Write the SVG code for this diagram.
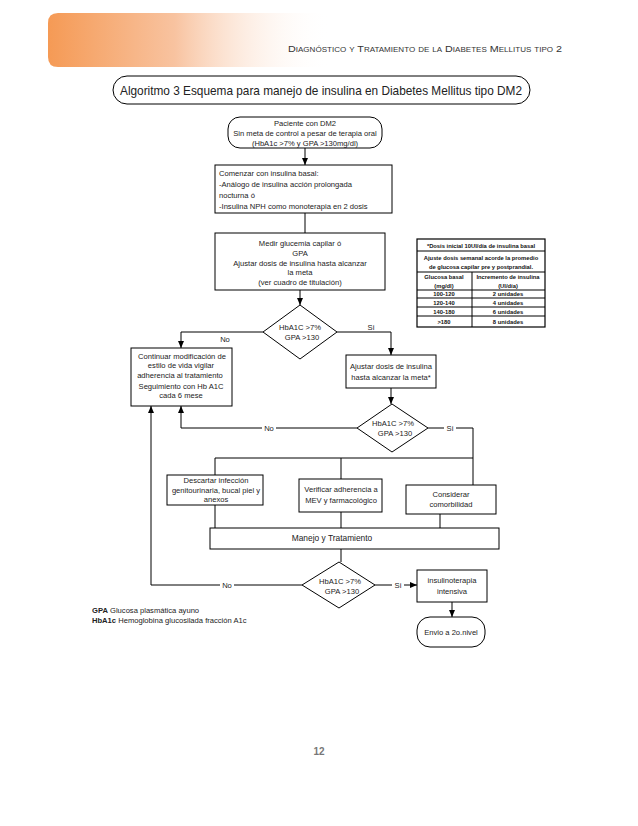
<svg xmlns="http://www.w3.org/2000/svg" width="638" height="826" viewBox="0 0 638 826">
<defs>
<linearGradient id="band" x1="0" y1="0" x2="1" y2="0">
<stop offset="0" stop-color="#f59a55"/>
<stop offset="0.45" stop-color="#f8c3a0"/>
<stop offset="1" stop-color="#ffffff" stop-opacity="0"/>
</linearGradient>
<marker id="ar" markerWidth="8" markerHeight="8" refX="7" refY="4" orient="auto" markerUnits="userSpaceOnUse">
<path d="M0,1 L7,4 L0,7 Z" fill="#000"/>
</marker>
<style>
text{font-family:"Liberation Sans",Arial,sans-serif;fill:#222;}
.t{font-size:7.6px;}
.b{fill:#fff;stroke:#000;stroke-width:1;}
.c{fill:none;stroke:#000;stroke-width:1;}
.tb{font-size:5.8px;font-weight:bold;fill:#111;}
.lbl{font-size:7.6px;}
</style>
</defs>
<rect width="638" height="826" fill="#fff"/>
<g id="header">
<path d="M58,13 H330 V67 H58 Q48,67 48,57 V23 Q48,13 58,13 Z" fill="url(#band)"/>
<text x="288" y="52" textLength="274" lengthAdjust="spacingAndGlyphs" style="font-size:9.4px;font-variant:small-caps;fill:#333">Diagnóstico y Tratamiento de la Diabetes Mellitus tipo 2</text>
</g>
<g id="title">
<rect x="113" y="76" width="417" height="28" rx="14" class="b"/>
<text x="120" y="95" textLength="402" lengthAdjust="spacingAndGlyphs" style="font-size:13px;">Algoritmo 3 Esquema para manejo de  insulina en  Diabetes Mellitus tipo DM2</text>
</g>
<g id="connectors">
<line x1="305" y1="148" x2="305" y2="165" class="c" marker-end="url(#ar)"/>
<line x1="305" y1="213" x2="305" y2="233" class="c"/>
<line x1="300" y1="290" x2="300" y2="305" class="c" marker-end="url(#ar)"/>
<polyline points="263,332 181,332 181,348" class="c" marker-end="url(#ar)"/>
<polyline points="337,332 391,332 391,355" class="c" marker-end="url(#ar)"/>
<line x1="391" y1="388" x2="391" y2="404" class="c" marker-end="url(#ar)"/>
<polyline points="357,428 181,428 181,406" class="c" marker-end="url(#ar)"/>
<polyline points="428,428 473,428 473,485" class="c"/>
<polyline points="215,475 215,458 473,458" class="c"/>
<line x1="341" y1="458" x2="341" y2="479" class="c"/>
<line x1="215" y1="505" x2="215" y2="528" class="c"/>
<line x1="341" y1="512" x2="341" y2="528" class="c"/>
<line x1="440" y1="514" x2="440" y2="528" class="c"/>
<line x1="341" y1="549" x2="341" y2="562" class="c"/>
<polyline points="302,585 151,585 151,406" class="c" marker-end="url(#ar)"/>
<line x1="375" y1="585" x2="417" y2="585" class="c" marker-end="url(#ar)"/>
<line x1="452" y1="602" x2="452" y2="617" class="c" marker-end="url(#ar)"/>
<text x="225" y="342" class="lbl" text-anchor="middle">No</text>
<text x="371" y="330" class="lbl" text-anchor="middle">Si</text>
<rect x="262" y="424" width="14" height="8" fill="#fff"/>
<text x="269" y="431" class="lbl" text-anchor="middle">No</text>
<rect x="444" y="424" width="12" height="8" fill="#fff"/>
<text x="450" y="431" class="lbl" text-anchor="middle">Si</text>
<rect x="220" y="581" width="14" height="8" fill="#fff"/>
<text x="227" y="588" class="lbl" text-anchor="middle">No</text>
<rect x="392" y="581" width="12" height="8" fill="#fff"/>
<text x="398" y="588" class="lbl" text-anchor="middle">Si</text>
</g>
<g id="n1">
<rect x="228" y="117" width="154" height="31" rx="12" class="b"/>
<text x="305" y="126" class="t" text-anchor="middle">Paciente con DM2</text>
<text x="305" y="136" class="t" text-anchor="middle">Sin meta de  control  a pesar de terapia oral</text>
<text x="305" y="146" class="t" text-anchor="middle">(HbA1c &gt;7% y GPA &gt;130mg/dl)</text>
</g>
<g id="n2">
<rect x="215" y="165" width="177" height="48" class="b"/>
<text x="219" y="176" class="t">Comenzar con insulina basal:</text>
<text x="219" y="187" class="t">-Análogo de insulina acción prolongada</text>
<text x="219" y="198" class="t">nocturna  ó</text>
<text x="219" y="209" class="t">-Insulina NPH como monoterapia en  2 dosis</text>
</g>
<g id="n3">
<rect x="215" y="233" width="170" height="57" class="b"/>
<text x="300" y="246" class="t" text-anchor="middle">Medir glucemia capilar ó</text>
<text x="300" y="256" class="t" text-anchor="middle">GPA</text>
<text x="300" y="266" class="t" text-anchor="middle">Ajustar dosis de insulina hasta alcanzar</text>
<text x="300" y="275" class="t" text-anchor="middle">la meta</text>
<text x="300" y="285" class="t" text-anchor="middle">(ver cuadro de titulación)</text>
</g>
<g id="d1">
<polygon points="300,305 337,332 300,359 263,332" class="b"/>
<text x="300" y="330" class="t" text-anchor="middle">HbA1C &gt;7%</text>
<text x="302" y="340" class="t" text-anchor="middle">GPA &gt;130</text>
</g>
<g id="n4">
<rect x="131" y="348" width="101" height="58" class="b"/>
<text x="182" y="359" class="t" text-anchor="middle">Continuar modificación de</text>
<text x="181" y="368" class="t" text-anchor="middle">estilo de vida  vigilar</text>
<text x="180" y="378" class="t" text-anchor="middle">adherencia al tratamiento</text>
<text x="181" y="389" class="t" text-anchor="middle">Seguimiento con Hb A1C</text>
<text x="181" y="398" class="t" text-anchor="middle">cada 6 mese</text>
</g>
<g id="table">
<rect x="417" y="239" width="128" height="88" fill="#fff" stroke="#000" stroke-width="1.2"/>
<line x1="417" y1="251" x2="545" y2="251" stroke="#000" stroke-width="1"/>
<line x1="417" y1="272" x2="545" y2="272" stroke="#000" stroke-width="1"/>
<line x1="417" y1="290" x2="545" y2="290" stroke="#000" stroke-width="1"/>
<line x1="417" y1="298" x2="545" y2="298" stroke="#000" stroke-width="1"/>
<line x1="417" y1="307" x2="545" y2="307" stroke="#000" stroke-width="1"/>
<line x1="417" y1="316" x2="545" y2="316" stroke="#000" stroke-width="1"/>
<line x1="472" y1="272" x2="472" y2="327" stroke="#000" stroke-width="1"/>
<text x="481" y="247.5" class="tb" text-anchor="middle">*Dosis inicial 10UI/día de insulina basal</text>
<text x="481" y="259.5" class="tb" text-anchor="middle">Ajuste dosis semanal acorde la promedio</text>
<text x="481" y="268.5" class="tb" text-anchor="middle">de glucosa capilar pre y postprandial.</text>
<text x="444" y="279" class="tb" text-anchor="middle">Glucosa basal</text>
<text x="444" y="287.5" class="tb" text-anchor="middle">(mg/dl)</text>
<text x="508" y="279" class="tb" text-anchor="middle">Incremento de insulina</text>
<text x="508" y="287.5" class="tb" text-anchor="middle">(UI/día)</text>
<text x="444" y="296.2" class="tb" text-anchor="middle">100-120</text>
<text x="508" y="296.2" class="tb" text-anchor="middle">2 unidades</text>
<text x="444" y="305" class="tb" text-anchor="middle">120-140</text>
<text x="508" y="305" class="tb" text-anchor="middle">4 unidades</text>
<text x="444" y="314" class="tb" text-anchor="middle">140-180</text>
<text x="508" y="314" class="tb" text-anchor="middle">6 unidades</text>
<text x="444" y="324" class="tb" text-anchor="middle">&gt;180</text>
<text x="508" y="324" class="tb" text-anchor="middle">8 unidades</text>
</g>
<g id="n5">
<rect x="346" y="355" width="90" height="33" class="b"/>
<text x="391" y="369" class="t" text-anchor="middle">Ajustar dosis de insulina</text>
<text x="391" y="380" class="t" text-anchor="middle">hasta alcanzar la meta*</text>
</g>
<g id="d2">
<polygon points="392,404 428,428 392,452 357,428" class="b"/>
<text x="393" y="426" class="t" text-anchor="middle">HbA1C &gt;7%</text>
<text x="395" y="436" class="t" text-anchor="middle">GPA &gt;130</text>
</g>
<g id="n6">
<rect x="167" y="475" width="96" height="30" class="b"/>
<text x="216" y="483" class="t" text-anchor="middle">Descartar  infección</text>
<text x="216" y="493" class="t" text-anchor="middle">genitourinaria, bucal piel y</text>
<text x="216" y="502" class="t" text-anchor="middle">anexos</text>
</g>
<g id="n7">
<rect x="299" y="479" width="83" height="33" class="b"/>
<text x="341" y="492" class="t" text-anchor="middle">Verificar adherencia a</text>
<text x="341" y="503" class="t" text-anchor="middle">MEV y farmacológico</text>
</g>
<g id="n8">
<rect x="406" y="485" width="90" height="29" class="b"/>
<text x="451" y="497" class="t" text-anchor="middle">Considerar</text>
<text x="451" y="507" class="t" text-anchor="middle">comorbilidad</text>
</g>
<g id="n9">
<rect x="210" y="528" width="289" height="21" class="b"/>
<text x="332" y="541" class="t" text-anchor="middle" style="font-size:8.4px">Manejo y Tratamiento</text>
</g>
<g id="d3">
<polygon points="339,562 375,585 339,608 302,585" class="b"/>
<text x="340" y="584" class="t" text-anchor="middle">HbA1C &gt;7%</text>
<text x="342" y="594" class="t" text-anchor="middle">GPA &gt;130</text>
</g>
<g id="n10">
<rect x="417" y="570" width="70" height="32" class="b"/>
<text x="452" y="583" class="t" text-anchor="middle">insulinoterapia</text>
<text x="452" y="594" class="t" text-anchor="middle">intensiva</text>
</g>
<g id="n11">
<rect x="417" y="617" width="68" height="30" rx="13" class="b"/>
<text x="451" y="635" class="t" text-anchor="middle">Envio a 2o.nivel</text>
</g>
<g id="legend">
<text x="92" y="613" class="t"><tspan font-weight="bold">GPA</tspan> Glucosa plasmática ayuno</text>
<text x="92" y="623" class="t"><tspan font-weight="bold">HbA1c</tspan> Hemoglobina glucosilada fracción A1c</text>
</g>
<text x="319" y="755" text-anchor="middle" style="font-size:10px;font-weight:bold;fill:#777">12</text>
</svg>
